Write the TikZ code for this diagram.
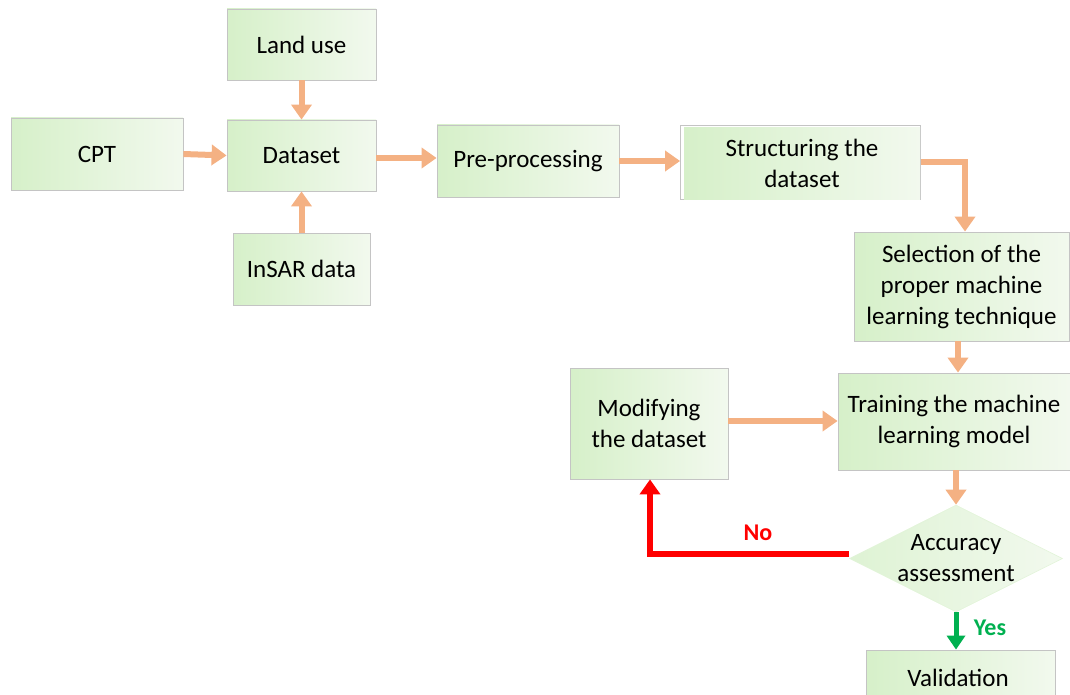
\documentclass[tikz,border=0pt]{standalone}
\usepackage{fontspec}
\setmainfont{Carlito}
\usetikzlibrary{arrows.meta,shapes.geometric,positioning}
\definecolor{boxL}{HTML}{D6F0C9}
\definecolor{boxR}{HTML}{F2F9EE}
\definecolor{boxB}{HTML}{C4C4C4}
\definecolor{arr}{HTML}{F4B183}
\definecolor{noRed}{HTML}{FF0000}
\definecolor{yesGreen}{HTML}{00B050}
\tikzset{
  gbox/.style={draw=boxB, line width=0.8pt, left color=boxL, right color=boxR, shading angle=90,
    inner sep=0pt, align=center, font=\fontsize{25}{31}\selectfont, text=black},
  gdia/.style={diamond, draw=boxL!70!white, line width=0.6pt, left color=boxL!80!white, right color=boxR,
    inner sep=0pt, align=center, font=\fontsize{25}{31}\selectfont, aspect=2},
  oarr/.style={draw=arr, line width=6pt, -{Triangle[width=20pt,length=15pt]}},
  rarr/.style={draw=noRed, line width=6pt, -{Triangle[width=20pt,length=15pt]}},
  garr/.style={draw=yesGreen, line width=5pt, -{Triangle[width=18pt,length=14pt]}},
}
\begin{document}
\begin{tikzpicture}[x=1pt,y=-1pt]
\useasboundingbox (0,0) rectangle (1070,695);
\node[gbox, minimum width=149pt, minimum height=71pt] (land) at (301.5,44.5) {Land use};
\node[gbox, minimum width=172pt, minimum height=72pt] (cpt) at (97,154) {CPT};
\node[gbox, minimum width=149pt, minimum height=71pt] (data) at (301.5,155.5) {Dataset};
\node[gbox, minimum width=137pt, minimum height=72pt] (insar) at (301.5,269) {InSAR data};
\node[gbox, minimum width=182pt, minimum height=72pt] (pre) at (528,161) {Pre-processing};
\node[draw=boxB, line width=0.8pt, fill=white, minimum width=240pt, minimum height=74pt] (structbg) at (800.5,162) {};
\node[gbox, draw=none, minimum width=236pt, minimum height=71pt] (struct) at (802,163.5) {Structuring the\\dataset};
\node[gbox, minimum width=215pt, minimum height=109pt] (sel) at (961.5,286.5) {Selection of the\\proper machine\\learning technique};
\node[gbox, minimum width=232pt, minimum height=97pt] (train) at (954,421.5) {Training the machine\\learning model};
\node[gbox, minimum width=158pt, minimum height=111pt] (mod) at (649,423.5) {Modifying\\the dataset};
\node[gdia, minimum width=213pt, minimum height=107pt] (acc) at (956,558.5) {Accuracy\\assessment};
\node[gbox, minimum width=189pt, minimum height=58pt] (val) at (960.5,679) {};
\node[font=\fontsize{25}{31}\selectfont, anchor=base] (valtxt) at (958,686) {Validation};

\draw[oarr] (land.south) -- (data.north);
\draw[oarr] (cpt.east) -- (data.west);
\draw[oarr] (insar.north) -- (data.south);
\draw[oarr] (data.east |- 0,158) -- (pre.west |- 0,158);
\draw[oarr] (pre.east |- 0,161) -- (structbg.west |- 0,161);
\draw[oarr] (structbg.east |- 0,162) -| (sel.north -| 965,0);
\draw[oarr] (sel.south -| 958,0) -- (train.north -| 958,0);
\draw[oarr] (mod.east |- 0,421) -- (train.west |- 0,421);
\draw[oarr] (train.south -| 956,0) -- (acc.north);
\coordinate (nocorner) at (650,554);
\draw[rarr] (acc.west |- 0,554) -- (nocorner) -- (mod.south -| nocorner);
\node[text=noRed, font=\fontsize{24}{28}\selectfont\bfseries] (nolbl) at (758,533) {No};
\draw[garr] (acc.south) -- (val.north -| acc.south);
\node[text=yesGreen, font=\fontsize{24}{28}\selectfont\bfseries] (yeslbl) at (990,628) {Yes};
\end{tikzpicture}
\end{document}
